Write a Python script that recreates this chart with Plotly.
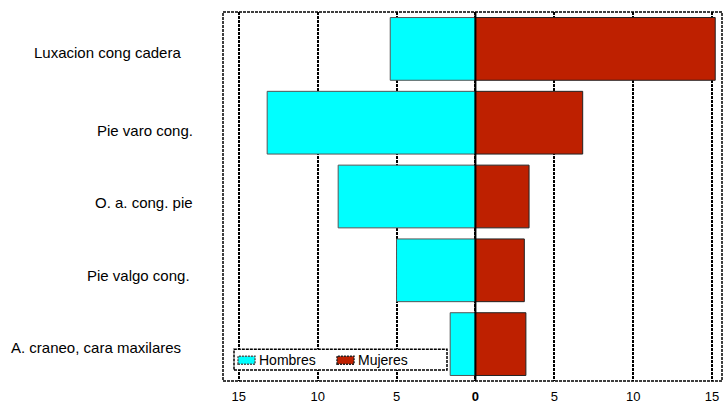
import plotly.graph_objects as go

# Congenital malformations by sex (counts)
categories = [
    "Luxacion cong cadera",
    "Pie varo cong.",
    "O. a. cong. pie",
    "Pie valgo cong.",
    "A. craneo, cara maxilares",
]
hombres = [5.4, 13.2, 8.7, 5.0, 1.6]
mujeres = [15.2, 6.8, 3.4, 3.1, 3.2]

series_names = ["Hombres", "Mujeres"]
series_colors = ["#00FFFF", "#BE2000"]
series_edges = ["#555555", "#222222"]

tick_vals = [-15, -10, -5, 0, 5, 10, 15]
tick_text = ["15", "10", "5", "<b>0</b>", "5", "10", "15"]

# label placement (right edge in px from plot left, vertical nudge in px)
label_right_px = [-40, -28, -28, -31, -40]
label_yshift = [-4, -8, -6, -5, -3]

FONT = "Arial, Liberation Sans, sans-serif"
W, H = 723, 405
ML, MR, MT, MB = 223, 1, 12, 21
PW = W - ML - MR
PH = H - MT - MB


def px_x(px):
    """Absolute page x (px) -> paper fraction."""
    return (px - ML) / PW


def px_y(py):
    """Absolute page y (px) -> paper fraction."""
    return (H - MB - py) / PH


fig = go.Figure()
for name, vals, col, edge in zip(series_names, [[-v for v in hombres], mujeres],
                                 series_colors, series_edges):
    fig.add_trace(go.Bar(
        y=categories, x=vals, orientation="h", name=name, showlegend=False,
        marker=dict(color=col, line=dict(color=edge, width=1)),
    ))

annotations = []
for cat, rpx, ys in zip(categories, label_right_px, label_yshift):
    annotations.append(dict(
        x=rpx / PW, xref="paper", y=cat, yref="y", xanchor="right",
        yanchor="middle", yshift=ys, showarrow=False, text=cat,
        font=dict(family=FONT, size=15, color="#000000"),
    ))

shapes = [
    # dashed frame around the plotting area
    dict(type="rect", xref="paper", yref="paper", x0=0, x1=1, y0=0, y1=1,
         line=dict(color="#000000", width=1.5, dash="3px,1px"), layer="above"),
    # solid zero axis over the bars
    dict(type="line", xref="x", yref="paper", x0=0, x1=0, y0=0, y1=1,
         line=dict(color="#000000", width=2), layer="above"),
    # legend box
    dict(type="rect", xref="paper", yref="paper",
         x0=px_x(234), x1=px_x(447), y0=px_y(373), y1=px_y(352),
         fillcolor="#FFFFFF", line=dict(color="#000000", width=1.5, dash="3px,1px"),
         layer="above"),
]

# legend entries: swatch + label
legend_swatch_left = [238, 337]
for name, col, edge, sx in zip(series_names, series_colors, series_edges,
                               legend_swatch_left):
    shapes.append(dict(
        type="rect", xref="paper", yref="paper",
        x0=px_x(sx), x1=px_x(sx + 17), y0=px_y(367), y1=px_y(359),
        fillcolor=col, line=dict(color=edge, width=1.5, dash="2px,1px"),
        layer="above",
    ))
    annotations.append(dict(
        x=px_x(sx + 19), y=px_y(363), xref="paper", yref="paper",
        xanchor="left", yanchor="middle", showarrow=False, text=name,
        font=dict(family=FONT, size=14, color="#000000"),
    ))

fig.update_layout(
    width=W, height=H,
    margin=dict(l=ML, r=MR, t=MT, b=MB, pad=0),
    paper_bgcolor="#FFFFFF", plot_bgcolor="#FFFFFF",
    barmode="relative", bargap=0.15,
    font=dict(family=FONT, size=13, color="#000000"),
    showlegend=False,
    annotations=annotations,
    shapes=shapes,
)
fig.update_xaxes(
    range=[-16.0, 15.63], tickvals=tick_vals, ticktext=tick_text,
    showgrid=True, gridcolor="#000000", gridwidth=2, griddash="3px,1px",
    zeroline=False, showline=False, ticks="", fixedrange=True,
    ticklabelstandoff=6,
    tickfont=dict(family=FONT, size=13, color="#000000"),
)
fig.update_yaxes(
    categoryorder="array", categoryarray=categories, range=[4.5, -0.5],
    showticklabels=False, showgrid=False, zeroline=False, ticks="",
    fixedrange=True,
)

fig.write_html("out.html", config={"displayModeBar": False})
